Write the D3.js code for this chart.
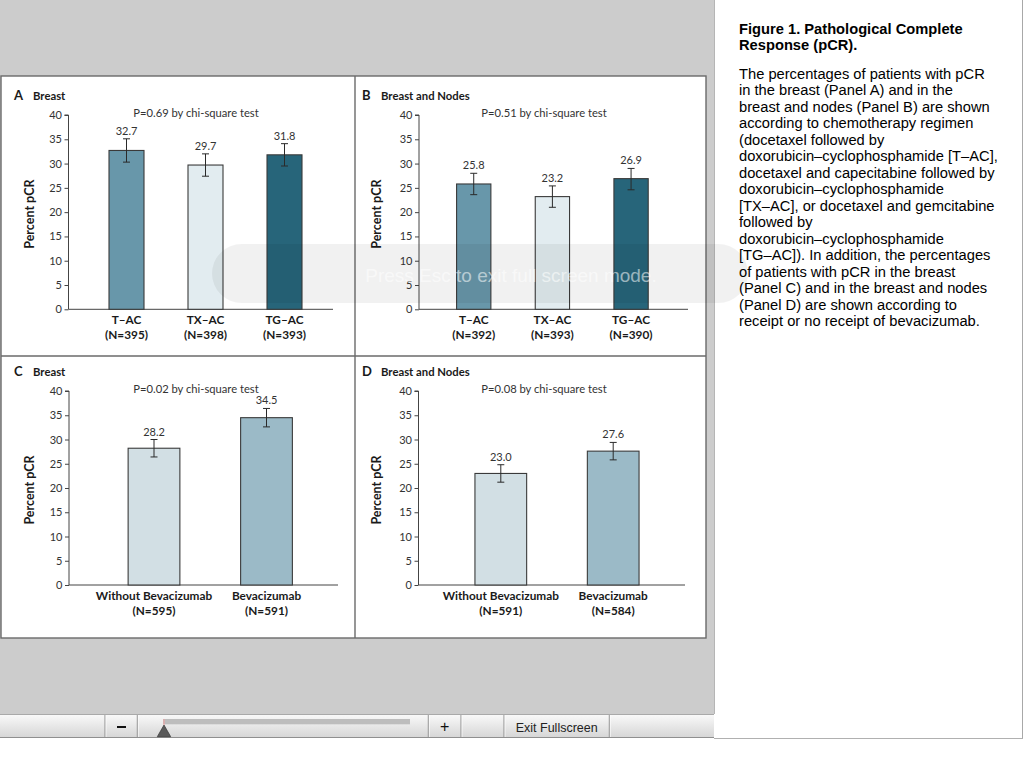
<!DOCTYPE html>
<html>
<head>
<meta charset="utf-8">
<script src="https://cdn.jsdelivr.net/npm/d3@7"></script>
<style>
  html, body { margin: 0; padding: 0; background: #ffffff; }
  svg { display: block; }
</style>
</head>
<body>
<svg id="chart" width="1024" height="768"></svg>
<script>
// ---------------- DATA ----------------
const regimenCategories = ["T\u2013AC", "TX\u2013AC", "TG\u2013AC"];
const bevCategories = ["Without Bevacizumab", "Bevacizumab"];

const panelA_N = ["(N=395)", "(N=398)", "(N=393)"];
const panelA_values = [32.7, 29.7, 31.8];
const panelA_lower = [30.3, 27.4, 29.5];
const panelA_upper = [35.1, 32.0, 34.1];

const panelB_N = ["(N=392)", "(N=393)", "(N=390)"];
const panelB_values = [25.8, 23.2, 26.9];
const panelB_lower = [23.6, 21.0, 24.6];
const panelB_upper = [28.0, 25.4, 29.0];

const panelC_N = ["(N=595)", "(N=591)"];
const panelC_values = [28.2, 34.5];
const panelC_lower = [26.4, 32.6];
const panelC_upper = [30.0, 36.4];

const panelD_N = ["(N=591)", "(N=584)"];
const panelD_values = [23.0, 27.6];
const panelD_lower = [21.2, 25.8];
const panelD_upper = [24.8, 29.4];

const yTickValues = [0, 5, 10, 15, 20, 25, 30, 35, 40];
const pTexts = ["P=0.69 by chi-square test", "P=0.51 by chi-square test",
                "P=0.02 by chi-square test", "P=0.08 by chi-square test"];
const panelLetters = ["A", "B", "C", "D"];
const panelTitles = ["Breast", "Breast and Nodes", "Breast", "Breast and Nodes"];

const captionTitle = ["Figure 1. Pathological Complete", "Response (pCR)."];
const captionBody = [
  "The percentages of patients with pCR",
  "in the breast (Panel A) and in the",
  "breast and nodes (Panel B) are shown",
  "according to chemotherapy regimen",
  "(docetaxel followed by",
  "doxorubicin\u2013cyclophosphamide [T\u2013AC],",
  "docetaxel and capecitabine followed by",
  "doxorubicin\u2013cyclophosphamide",
  "[TX\u2013AC], or docetaxel and gemcitabine",
  "followed by",
  "doxorubicin\u2013cyclophosphamide",
  "[TG\u2013AC]). In addition, the percentages",
  "of patients with pCR in the breast",
  "(Panel C) and in the breast and nodes",
  "(Panel D) are shown according to",
  "receipt or no receipt of bevacizumab."
];

// ---------------- STYLE / LAYOUT ----------------
const regimenColors = ["#6897aa", "#e2ecf0", "#27657a"];
const bevColors = ["#d2dfe4", "#9bbac7"];
const FONT = "Lato, 'Open Sans', sans-serif";
const CAPFONT = "'Liberation Sans', Arial, sans-serif";

const panels = [
  { cats: regimenCategories, N: panelA_N, vals: panelA_values, lo: panelA_lower, hi: panelA_upper, colors: regimenColors,
    axisX: 68.5, xEnd: 333, yTop: 115, yBottom: 309.3, band: [87, 324], pad: 0.557, pX: 196,
    letterX: 14, titleX: 33, titleY: 100, ylabX: 30 },
  { cats: regimenCategories, N: panelB_N, vals: panelB_values, lo: panelB_lower, hi: panelB_upper, colors: regimenColors,
    axisX: 419, xEnd: 688, yTop: 115, yBottom: 309.3, band: [434.4, 670.4], pad: 0.564, pX: 544,
    letterX: 362, titleX: 381, titleY: 100, ylabX: 377 },
  { cats: bevCategories, N: panelC_N, vals: panelC_values, lo: panelC_lower, hi: panelC_upper, colors: bevColors,
    axisX: 69, xEnd: 338, yTop: 391, yBottom: 585, band: [97.75, 322.75], pad: 0.54, pX: 196,
    letterX: 14, titleX: 33, titleY: 376, ylabX: 30 },
  { cats: bevCategories, N: panelD_N, vals: panelD_values, lo: panelD_lower, hi: panelD_upper, colors: bevColors,
    axisX: 418.5, xEnd: 685, yTop: 391, yBottom: 585, band: [444.6, 669.4], pad: 0.54, pX: 544,
    letterX: 362, titleX: 381, titleY: 376, ylabX: 377 }
];

const svg = d3.select("#chart");

// ---------------- BACKGROUND (viewer) ----------------
svg.append("rect").attr("x", 0).attr("y", 0).attr("width", 714).attr("height", 714).attr("fill", "#cccccc");
svg.append("line").attr("x1", 714.5).attr("x2", 714.5).attr("y1", 0).attr("y2", 714).attr("stroke", "#b5b5b5");

// right caption panel borders
svg.append("line").attr("x1", 1022.5).attr("x2", 1022.5).attr("y1", 0).attr("y2", 738).attr("stroke", "#a8a8a8");
svg.append("line").attr("x1", 714).attr("x2", 1023).attr("y1", 738.5).attr("y2", 738.5).attr("stroke", "#b0b0b0");

// figure frame
svg.append("rect").attr("x", 1).attr("y", 76).attr("width", 705).attr("height", 562)
  .attr("fill", "#ffffff").attr("stroke", "#6a6a6a").attr("stroke-width", 1.4);
svg.append("line").attr("x1", 355).attr("x2", 355).attr("y1", 76).attr("y2", 638).attr("stroke", "#6a6a6a").attr("stroke-width", 1.4);
svg.append("line").attr("x1", 1).attr("x2", 706).attr("y1", 356).attr("y2", 356).attr("stroke", "#6a6a6a").attr("stroke-width", 1.4);

// ---------------- PANELS ----------------
panels.forEach((p, i) => {
  const g = svg.append("g");
  const y = d3.scaleLinear().domain([0, 40]).range([p.yBottom, p.yTop]);
  const x = d3.scaleBand().domain(p.cats).range(p.band).paddingInner(p.pad).paddingOuter(p.pad / 2);

  // title
  g.append("text").attr("x", p.letterX).attr("y", p.titleY).text(panelLetters[i])
    .attr("font-family", FONT).attr("font-weight", 700).attr("font-size", 13).attr("fill", "#1a1a1a");
  g.append("text").attr("x", p.titleX).attr("y", p.titleY).text(panelTitles[i])
    .attr("font-family", FONT).attr("font-weight", 700).attr("font-size", 11.3).attr("fill", "#1a1a1a");

  // y axis
  const yAxis = d3.axisLeft(y).tickValues(yTickValues).tickSize(4).tickPadding(2.5).tickFormat(d3.format("d"));
  const ya = g.append("g").attr("transform", `translate(${p.axisX},0)`).call(yAxis);
  ya.select(".domain").attr("stroke", "#444").attr("stroke-width", 1).attr("d", `M-4,${p.yTop}H0V${p.yBottom}`);
  ya.selectAll(".tick line").attr("stroke", "#444");
  ya.selectAll(".tick text").attr("font-family", FONT).attr("font-size", 11).attr("fill", "#333");

  // x axis line
  const xAxis = d3.axisBottom(x).tickSize(0).tickFormat("");
  const xa = g.append("g").attr("transform", `translate(0,${p.yBottom})`).call(xAxis);
  xa.select(".domain").attr("stroke", "#444").attr("stroke-width", 1).attr("d", `M${p.axisX},0H${p.xEnd}`);

  // y label
  g.append("text").attr("transform", `translate(${p.ylabX},${(p.yTop + p.yBottom) / 2 + 2}) rotate(-90)`)
    .attr("text-anchor", "middle").attr("dy", "0.35em").text("Percent pCR")
    .attr("font-family", FONT).attr("font-weight", 700).attr("font-size", 12.5).attr("fill", "#1a1a1a");

  // p text
  g.append("text").attr("x", p.pX).attr("y", p.yTop + 1.8).attr("text-anchor", "middle").text(pTexts[i])
    .attr("font-family", FONT).attr("font-size", 11.2).attr("fill", "#333");

  const data = p.cats.map((c, k) => ({ c, v: p.vals[k], lo: p.lo[k], hi: p.hi[k], n: p.N[k], col: p.colors[k] }));

  // bars
  g.selectAll("rect.bar").data(data).enter().append("rect").attr("class", "bar")
    .attr("x", d => x(d.c)).attr("width", x.bandwidth())
    .attr("y", d => y(d.v)).attr("height", d => y(0) - y(d.v))
    .attr("fill", d => d.col).attr("stroke", "#3a3a3a").attr("stroke-width", 1.1);

  // error bars
  const cap = 3.5;
  const eb = g.selectAll("g.err").data(data).enter().append("g").attr("class", "err");
  eb.append("line").attr("x1", d => x(d.c) + x.bandwidth() / 2).attr("x2", d => x(d.c) + x.bandwidth() / 2)
    .attr("y1", d => y(d.lo)).attr("y2", d => y(d.hi)).attr("stroke", "#2a2a2a").attr("stroke-width", 1);
  eb.append("line").attr("x1", d => x(d.c) + x.bandwidth() / 2 - cap).attr("x2", d => x(d.c) + x.bandwidth() / 2 + cap)
    .attr("y1", d => y(d.lo)).attr("y2", d => y(d.lo)).attr("stroke", "#2a2a2a").attr("stroke-width", 1);
  eb.append("line").attr("x1", d => x(d.c) + x.bandwidth() / 2 - cap).attr("x2", d => x(d.c) + x.bandwidth() / 2 + cap)
    .attr("y1", d => y(d.hi)).attr("y2", d => y(d.hi)).attr("stroke", "#2a2a2a").attr("stroke-width", 1);

  // value labels
  g.selectAll("text.val").data(data).enter().append("text").attr("class", "val")
    .attr("x", d => x(d.c) + x.bandwidth() / 2).attr("y", d => y(d.hi) - 4)
    .attr("text-anchor", "middle").text(d => d.v.toFixed(1))
    .attr("font-family", FONT).attr("font-size", 11).attr("fill", "#333");

  // category labels
  g.selectAll("text.cat").data(data).enter().append("text").attr("class", "cat")
    .attr("x", d => x(d.c) + x.bandwidth() / 2).attr("y", p.yBottom + 15)
    .attr("text-anchor", "middle").text(d => d.c)
    .attr("font-family", FONT).attr("font-weight", 700).attr("font-size", 11.8).attr("fill", "#1a1a1a");
  g.selectAll("text.n").data(data).enter().append("text").attr("class", "n")
    .attr("x", d => x(d.c) + x.bandwidth() / 2).attr("y", p.yBottom + 30)
    .attr("text-anchor", "middle").text(d => d.n)
    .attr("font-family", FONT).attr("font-weight", 700).attr("font-size", 11.8).attr("fill", "#1a1a1a");
});

// ---------------- CAPTION ----------------
const cap = svg.append("g");
captionTitle.forEach((t, k) => {
  cap.append("text").attr("x", 739).attr("y", 34 + k * 15.8).text(t)
    .attr("font-family", CAPFONT).attr("font-weight", 700).attr("font-size", 14.7).attr("fill", "#000");
});
captionBody.forEach((t, k) => {
  cap.append("text").attr("x", 739).attr("y", 79 + k * 16.47).text(t)
    .attr("font-family", CAPFONT).attr("font-size", 14.7).attr("fill", "#000");
});

// ---------------- TOOLBAR ----------------
const defs = svg.append("defs");
const grad = defs.append("linearGradient").attr("id", "tb").attr("x1", 0).attr("y1", 0).attr("x2", 0).attr("y2", 1);
grad.append("stop").attr("offset", "0%").attr("stop-color", "#fafafa");
grad.append("stop").attr("offset", "100%").attr("stop-color", "#d6d6d6");
const tb = svg.append("g");
tb.append("rect").attr("x", 0).attr("y", 714).attr("width", 714).attr("height", 23.5).attr("fill", "url(#tb)");
tb.append("line").attr("x1", 0).attr("x2", 714).attr("y1", 714.5).attr("y2", 714.5).attr("stroke", "#a9a9a9");
tb.append("line").attr("x1", 0).attr("x2", 714).attr("y1", 737.5).attr("y2", 737.5).attr("stroke", "#8f8f8f");
[105, 137.3, 428.3, 461, 504, 609.3].forEach(sx => {
  tb.append("line").attr("x1", sx).attr("x2", sx).attr("y1", 715).attr("y2", 737).attr("stroke", "#8a8a8a");
  tb.append("line").attr("x1", sx + 1).attr("x2", sx + 1).attr("y1", 715).attr("y2", 737).attr("stroke", "#ffffff").attr("stroke-opacity", 0.7);
});
tb.append("rect").attr("x", 117).attr("y", 726).attr("width", 9).attr("height", 2).attr("fill", "#111");
tb.append("text").attr("x", 444.7).attr("y", 732).attr("text-anchor", "middle").text("+")
  .attr("font-family", CAPFONT).attr("font-size", 16).attr("fill", "#111");
tb.append("text").attr("x", 556.7).attr("y", 731.5).attr("text-anchor", "middle").text("Exit Fullscreen")
  .attr("font-family", CAPFONT).attr("font-size", 12.5).attr("fill", "#222");
tb.append("rect").attr("x", 163).attr("y", 719).attr("width", 247).attr("height", 5.3).attr("fill", "#bdbdbd");
tb.append("line").attr("x1", 164).attr("x2", 164).attr("y1", 719).attr("y2", 725).attr("stroke", "#f4a0a0");
tb.append("path").attr("d", "M157.3,736.7L170.7,736.7L164,725Z").attr("fill", "#5a5a5a").attr("stroke", "#333").attr("stroke-width", 0.7);

// ---------------- FULLSCREEN NOTICE OVERLAY ----------------
const ov = svg.append("g");
ov.append("rect").attr("x", 212).attr("y", 244).attr("width", 536).attr("height", 59).attr("rx", 29.5)
  .attr("fill", "#000").attr("fill-opacity", 0.055);
ov.append("text").attr("x", 511).attr("y", 282).attr("text-anchor", "middle").text("Press Esc to exit full screen mode.")
  .attr("font-family", CAPFONT).attr("font-size", 19).attr("fill", "#ffffff").attr("fill-opacity", 0.55);
</script>
</body>
</html>
